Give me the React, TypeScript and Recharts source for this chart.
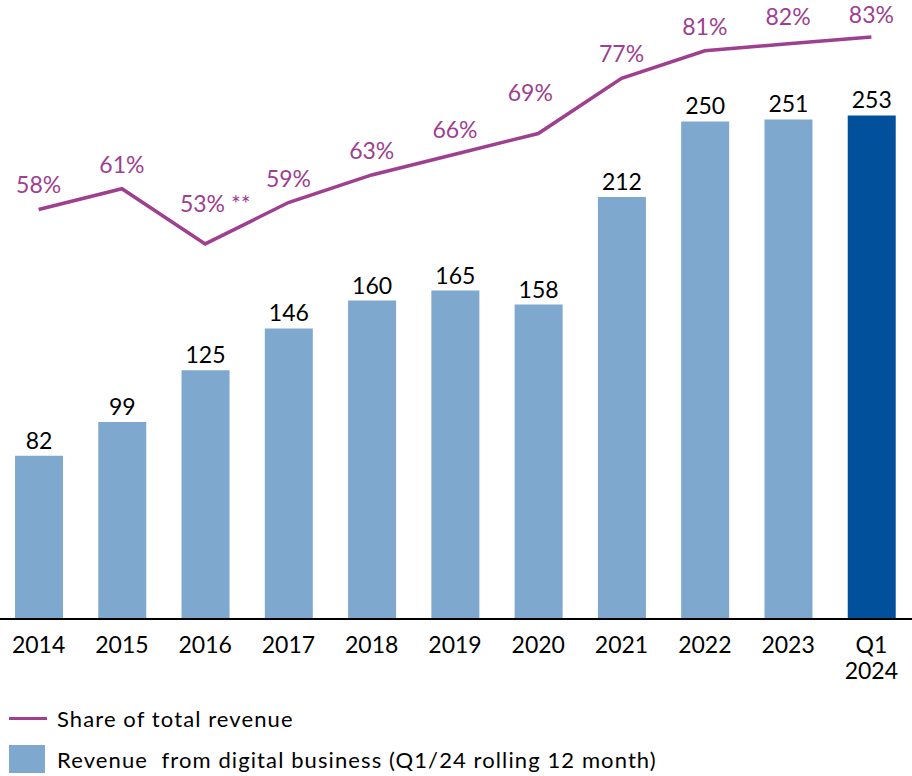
import { ComposedChart, Bar, Line, XAxis, YAxis, Cell, LabelList } from "recharts";

const years = ["2014", "2015", "2016", "2017", "2018", "2019", "2020", "2021", "2022", "2023", "Q1 2024"];
const revenue = [82, 99, 125, 146, 160, 165, 158, 212, 250, 251, 253];
const share = [58, 61, 53, 59, 63, 66, 69, 77, 81, 82, 83];
const shareLabels = ["58%", "61%", "53% **", "59%", "63%", "66%", "69%", "77%", "81%", "82%", "83%"];

const data = years.map((year, i) => ({
  year,
  revenue: revenue[i],
  share: share[i],
  shareLabel: shareLabels[i],
}));

const BAR = "#7EA8CD";
const BAR_LAST = "#00509B";
const PURPLE = "#9E3F8F";
const FONT = "Lato, 'Open Sans', sans-serif";

// extra lift for labels that sit further above the line
const lift: Record<number, number> = { 2: 16, 6: 17, 9: 3, 10: -2 };
const shiftX: Record<number, number> = { 2: 10, 6: -8 };

function ShareLabel(props: any) {
  const { x, y, index, value } = props;
  return (
    <text
      x={x + (shiftX[index] ?? 0)}
      y={y - 25 - (lift[index] ?? 0)}
      textAnchor="middle"
      dominantBaseline="central"
      fill={PURPLE}
      fontSize={23}
      fontFamily={FONT}
    >
      {value}
    </text>
  );
}

function YearTick(props: any) {
  const { x, y, payload } = props;
  const lines = String(payload.value).split(" ");
  return (
    <g>
      {lines.map((l, i) => (
        <text
          key={l}
          x={x}
          y={y + 17 + i * 26}
          textAnchor="middle"
          dominantBaseline="central"
          fill="#000"
          fontSize={23}
          fontFamily={FONT}
        >
          {l}
        </text>
      ))}
    </g>
  );
}

export default function App() {
  return (
    <div style={{ position: "absolute", left: 0, top: 0, width: 912, height: 776, overflow: "hidden", background: "#fff", fontFamily: FONT }}>
      <div style={{ marginLeft: -3 }}>
        <ComposedChart width={916} height={700} data={data} margin={{ top: 10, right: 0, bottom: 11, left: 0 }} barCategoryGap={0}>
          <XAxis
            dataKey="year"
            axisLine={{ stroke: "#000", strokeWidth: 2 }}
            tickLine={false}
            tick={<YearTick />}
            height={70}
            interval={0}
          />
          <YAxis yAxisId="rev" hide domain={[0, 306]} />
          <YAxis yAxisId="pct" hide orientation="right" domain={[-1.35, 86.9]} />
          <Bar yAxisId="rev" dataKey="revenue" barSize={48} isAnimationActive={false}>
            {data.map((d, i) => (
              <Cell key={d.year} fill={i === data.length - 1 ? BAR_LAST : BAR} />
            ))}
            <LabelList dataKey="revenue" position="top" offset={7} fill="#000" fontSize={23} fontFamily={FONT} />
          </Bar>
          <Line
            yAxisId="pct"
            dataKey="share"
            stroke={PURPLE}
            strokeWidth={3.5}
            dot={false}
            isAnimationActive={false}
          >
            <LabelList dataKey="shareLabel" content={<ShareLabel />} />
          </Line>
        </ComposedChart>
      </div>
      <div style={{ position: "absolute", left: 9, top: 704, fontSize: 22, letterSpacing: 1.1, color: "#000" }}>
        <div style={{ display: "flex", alignItems: "center", height: 28 }}>
          <span style={{ width: 38, height: 3, background: PURPLE, marginRight: 10 }} />
          <span>Share of total revenue</span>
        </div>
        <div style={{ display: "flex", alignItems: "center", height: 28, marginTop: 13 }}>
          <span style={{ width: 36, height: 28, background: BAR, marginRight: 12 }} />
          <span>Revenue&nbsp; from digital business (Q1/24 rolling 12 month)</span>
        </div>
      </div>
    </div>
  );
}
